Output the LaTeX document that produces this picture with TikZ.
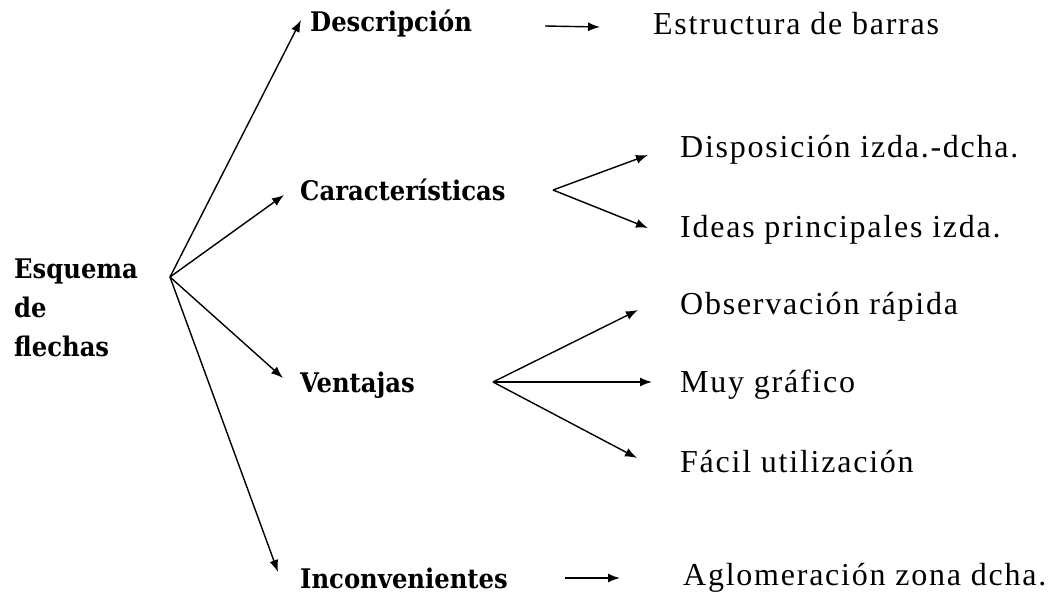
\documentclass[tikz,border=0pt]{standalone}
\usepackage{fontspec}
\setmainfont{Liberation Serif}
\newfontfamily\rightfont[LetterSpace=5.5]{Liberation Serif}
\newfontfamily\leftfont{DejaVu Serif Condensed}
\usetikzlibrary{arrows.meta,calc}
\tikzset{
  x=1pt,y=-1pt,
  lbl/.style={font=\fontsize{27}{39}\selectfont\leftfont\bfseries, anchor=west, inner sep=0pt},
  itm/.style={font=\fontsize{32}{36}\selectfont\rightfont, anchor=west, inner sep=0pt},
  arr/.style={line width=1.4pt, -{Latex[length=12pt,width=9pt]}},
}
\begin{document}
\begin{tikzpicture}
\useasboundingbox (0,0) rectangle (1059,600);
% main node
\node[lbl, align=left] (esq) at (14,308) {Esquema\\de\\flechas};
\coordinate (hub) at (170,277);
% second level
\node[lbl] (desc) at (310,24) {Descripción};
\node[lbl] (car) at (300,190) {Características};
\node[lbl] (ven) at (300,385) {Ventajas};
\node[lbl] (inc) at (300,578) {Inconvenientes};
% third level
\node[itm] (estr) at (653,24) {Estructura de barras};
\node[itm] (disp) at (680,150) {Disposición izda.-dcha.};
\node[itm] (ideas) at (680,230) {Ideas principales izda.};
\node[itm] (obs) at (680,307) {Observación rápida};
\node[itm] (muy) at (680,385) {Muy gráfico};
\node[itm] (fac) at (680,462) {Fácil utilización};
\node[itm] (agl) at (683,578) {Aglomeración zona dcha.};
% hubs
\coordinate (carhub) at (553,190);
\coordinate (venhub) at (493,382);
% connectors
\draw[arr] (hub) -- ($(desc.west)+(-9,-4)$);
\draw[arr] (hub) -- ($(car.west)+(-16,5)$);
\draw[arr] (hub) -- ($(ven.west)+(-17,-7)$);
\draw[arr] (hub) -- ($(inc.west)+(-22,-6)$);
\draw[arr] (545,26) -- ($(estr.west)+(-53,3)$);
\draw[arr] (carhub) -- ($(disp.west)+(-32,5)$);
\draw[arr] (carhub) -- ($(ideas.west)+(-32,-2)$);
\draw[arr] (venhub) -- ($(obs.west)+(-42,3)$);
\draw[arr] (venhub) -- ($(muy.west)+(-28,-3)$);
\draw[arr] (venhub) -- ($(fac.west)+(-43,-4)$);
\draw[arr] (565,578) -- ($(agl.west)+(-63,0)$);
\end{tikzpicture}
\end{document}
